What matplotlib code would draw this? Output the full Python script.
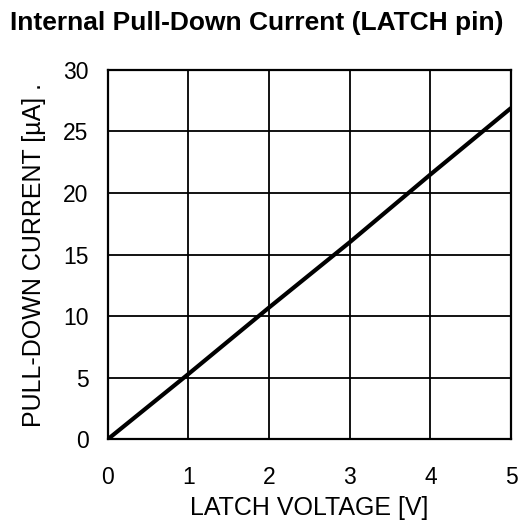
import matplotlib
matplotlib.use("Agg")
import matplotlib.pyplot as plt

plt.rcParams['font.family'] = ['Liberation Sans', 'DejaVu Sans']

# data
voltage = [0, 1, 2, 3, 4, 5]
current = [0, 5.3, 10.7, 16.0, 21.5, 26.9]
xticks = [0, 1, 2, 3, 4, 5]
yticks = [0, 5, 10, 15, 20, 25, 30]

fig = plt.figure(figsize=(5.21, 5.21), dpi=100)
ax = fig.add_axes([0.207, 0.157, 0.774, 0.709])
ax.plot(voltage, current, color='black', lw=3, solid_capstyle='butt')
ax.set_xlim(0, 5)
ax.set_ylim(0, 30)
ax.set_xticks(xticks)
ax.set_yticks(yticks)
ax.grid(True, color='black', lw=1.3)
for s in ax.spines.values():
    s.set_linewidth(1.6)
ax.tick_params(length=0, labelsize=16.5)
ax.tick_params(axis='x', pad=19)
ax.tick_params(axis='y', pad=14)
ax.set_xlabel("LATCH VOLTAGE [V]", fontsize=18, labelpad=5)
ax.set_ylabel("PULL-DOWN CURRENT [µA] .", fontsize=18, labelpad=12)
fig.text(0.019, 0.978, "Internal Pull-Down Current (LATCH pin)", fontsize=19,
         fontweight='bold', va='top', ha='left')
fig.savefig("out.png", dpi=100)
